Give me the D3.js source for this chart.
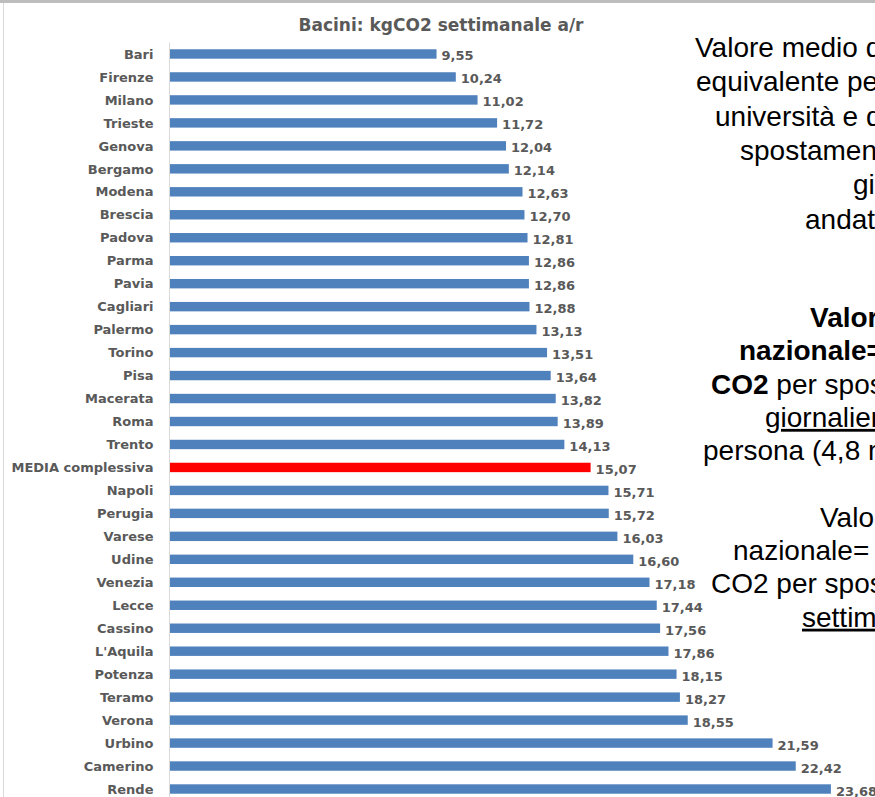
<!DOCTYPE html>
<html><head><meta charset="utf-8">
<script src="https://cdn.jsdelivr.net/npm/d3@7"></script>
<style>body{margin:0;background:#fff;overflow:hidden}svg{display:block}</style>
</head><body>
<script>
// ---- data ----
const title = "Bacini: kgCO2 settimanale a/r";
const categories = ["Bari","Firenze","Milano","Trieste","Genova","Bergamo","Modena","Brescia","Padova","Parma","Pavia","Cagliari","Palermo","Torino","Pisa","Macerata","Roma","Trento","MEDIA complessiva","Napoli","Perugia","Varese","Udine","Venezia","Lecce","Cassino","L'Aquila","Potenza","Teramo","Verona","Urbino","Camerino","Rende"];
const values = [9.55,10.24,11.02,11.72,12.04,12.14,12.63,12.70,12.81,12.86,12.86,12.88,13.13,13.51,13.64,13.82,13.89,14.13,15.07,15.71,15.72,16.03,16.60,17.18,17.44,17.56,17.86,18.15,18.27,18.55,21.59,22.42,23.68];
const highlightCategory = "MEDIA complessiva";

// side note text (clipped at the right edge as in the reference)
const noteTop = [
  [{t:"Valore medio di"}],
  [{t:"equivalente per"}],
  [{t:"università e di"}],
  [{t:"spostamenti"}],
  [{t:"giornalieri"}],
  [{t:"andata e ritorno"}]
];
const noteBottom = [
  [{t:"Valore", b:true}],
  [{t:"nazionale=", b:true}],
  [{t:"CO2", b:true},{t:" per spostamento"}],
  [{t:"giornaliero", u:true}],
  [{t:"persona (4,8 mln"}],
  [],
  [{t:"Valore"}],
  [{t:"nazionale="}],
  [{t:"CO2 per spostamento"}],
  [{t:"settimanale", u:true}]
];

// ---- layout ----
const W = 875, H = 797;
const noteTopX = [695, 696, 715, 740, 853, 805];
const noteBottomX = [810, 739, 711, 765, 703, 0, 820, 733, 711, 802];

const svg = d3.select("body").append("svg").attr("width", W).attr("height", H);

// frame bits
svg.append("rect").attr("x",0).attr("y",0).attr("width",W).attr("height",3).attr("fill","#bdbdbd");
svg.append("line").attr("x1",3.5).attr("x2",3.5).attr("y1",3).attr("y2",H).attr("stroke","#d9d9d9").attr("stroke-width",1);

const x = d3.scaleLinear().domain([0, 25]).range([170, 170 + 25 * 27.91]);
const y = d3.scaleBand().domain(categories).range([42.5, 800.5]).paddingInner(0.59).paddingOuter(0.295);

const fmt = d3.formatLocale({decimal: ",", thousands: ".", grouping: [3], currency: ["", "€"]}).format(".2f");

const labelFont = "'DejaVu Sans', sans-serif";

// title
svg.append("text").attr("x", 441).attr("y", 31).attr("text-anchor","middle")
  .attr("font-family", labelFont).attr("font-weight","bold").attr("font-size", 17)
  .attr("fill","#595959").text(title);

// axis (category axis line on left)
const yAxis = d3.axisLeft(y).tickSize(0).tickPadding(16);
const gA = svg.append("g").attr("transform", `translate(${x(0) - 0.5},0)`).call(yAxis);
gA.select(".domain").attr("stroke","#d9d9d9").attr("d", `M0,${y.range()[0]}V${H}`);
gA.selectAll(".tick text")
  .attr("font-family", labelFont).attr("font-weight","bold").attr("font-size", 13)
  .attr("fill","#595959").attr("dy","0.36em");

// bars
const data = categories.map((c, i) => ({c, v: values[i]}));
svg.append("g").selectAll("rect").data(data).join("rect")
  .attr("x", x(0))
  .attr("y", d => y(d.c))
  .attr("width", d => x(d.v) - x(0))
  .attr("height", y.bandwidth())
  .attr("fill", d => d.c === highlightCategory ? "#ff0000" : "#4f81bd");

// value labels
svg.append("g").selectAll("text").data(data).join("text")
  .attr("x", d => x(d.v) + 5)
  .attr("y", d => y(d.c) + y.bandwidth() / 2)
  .attr("dy", "0.5em")
  .attr("font-family", labelFont).attr("font-weight","bold").attr("font-size", 13)
  .attr("fill","#595959")
  .text(d => fmt(d.v));

// side notes
function drawNote(lines, xs, y0, step) {
  lines.forEach((segs, i) => {
    if (!segs.length) return;
    const t = svg.append("text").attr("x", xs[i]).attr("y", y0 + i * step)
      .attr("font-family","'Liberation Sans', Arial, sans-serif").attr("font-size", 28).attr("fill","#000");
    segs.forEach(s => {
      const ts = t.append("tspan").text(s.t);
      if (s.b) ts.attr("font-weight","bold");
      if (s.u) ts.attr("text-decoration","underline").style("text-decoration","underline");
    });
  });
}
drawNote(noteTop, noteTopX, 57, 34.3);
drawNote(noteBottom, noteBottomX, 327, 33.3);
</script>
</body></html>
